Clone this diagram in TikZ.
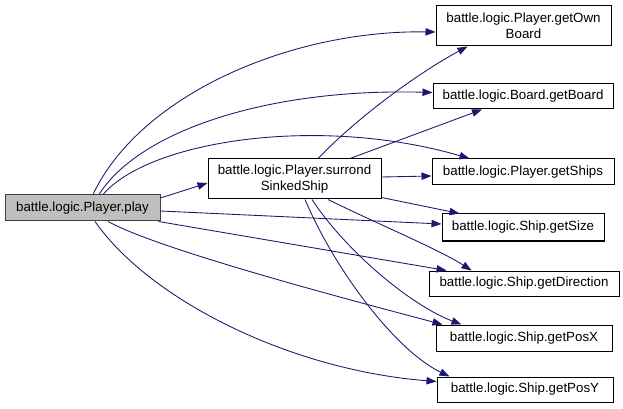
\documentclass[tikz,border=0pt]{standalone}
\usepackage{fontspec}
\setmainfont{Liberation Sans}
\usetikzlibrary{calc,arrows.meta}
\definecolor{edgeblue}{HTML}{191970}
\definecolor{boxgray}{HTML}{BFBFBF}
\definecolor{boxline}{HTML}{404040}
\tikzset{
  fn/.style={draw=black,line width=0.75pt,fill=white,inner sep=0pt,align=center,
    font=\fontsize{10}{12}\selectfont},
  cur/.style={fn,draw=boxline,fill=boxgray},
  call/.style={draw=edgeblue,line width=0.65pt,-{Triangle[length=7.5pt,width=5.5pt]}}
}
\begin{document}
\begin{tikzpicture}[x=0.75pt,y=-0.75pt]
\useasboundingbox (0,0) rectangle (623,409);
\node[cur,minimum width=116.25pt,minimum height=19.5pt] (play) at (82.5,208) {battle.logic.Player.play};
\node[fn,minimum width=129.75pt,minimum height=30pt] (sur) at (294.5,179) {battle.logic.Player.surrond\\SinkedShip};
\node[fn,minimum width=131.25pt,minimum height=30pt] (own) at (523.5,26) {battle.logic.Player.getOwn\\Board};
\node[fn,minimum width=135pt,minimum height=18.75pt] (brd) at (523,96.5) {battle.logic.Board.getBoard};
\node[fn,minimum width=136.5pt,minimum height=19.5pt] (shp) at (523,172) {battle.logic.Player.getShips};
\node[fn,minimum width=121.5pt,minimum height=20.25pt] (siz) at (523,227.5) {battle.logic.Ship.getSize};
\node[fn,minimum width=142.5pt,minimum height=18.75pt] (dir) at (524,283.5) {battle.logic.Ship.getDirection};
\node[fn,minimum width=132pt,minimum height=19.5pt] (px) at (524,338) {battle.logic.Ship.getPosX};
\node[fn,minimum width=132pt,minimum height=18.75pt] (py) at (525,389.5) {battle.logic.Ship.getPosY};
% from play
\draw[call] ($(play.north)+(10.5,0)$) .. controls (140,95) and (290,30) .. ($(own.west)+(0,6)$);
\draw[call] ($(play.north)+(16.5,0)$) .. controls (140,130) and (270,88) .. ($(brd.west)+(0,-4)$);
\draw[call] ($(play.north)+(20.5,0)$) .. controls (150,140) and (320,115) .. ($(shp.north west)+(38,0)$);
\draw[call] ($(play.east)+(0,-10)$) -- ($(sur.west)+(0,4)$);
\draw[call] ($(play.east)+(0,3)$) -- ($(siz.west)+(0,-3.5)$);
\draw[call] ($(play.south east)+(-2,0)$) -- ($(dir.north west)+(18,0)$);
\draw[call] ($(play.south)+(25.5,0)$) .. controls (160,250) and (350,300) .. ($(px.north west)+(7,0)$);
\draw[call] ($(play.south)+(12.5,0)$) .. controls (150,300) and (290,370) .. ($(py.west)+(0,-8)$);
% from surrond
\draw[call] ($(sur.north)+(23.5,0)$) .. controls (360,115) and (420,72) .. ($(own.south)+(-56,0)$);
\draw[call] ($(sur.north)+(55.5,0)$) -- ($(brd.south)+(-41,0)$);
\draw[call] ($(sur.east)+(0,-2)$) -- ($(shp.west)+(0,4)$);
\draw[call] ($(sur.south east)+(0,-2)$) -- ($(siz.north west)+(18,0)$);
\draw[call] ($(sur.south)+(33.5,0)$) .. controls (380,225) and (440,250) .. ($(dir.north west)+(43,0)$);
\draw[call] ($(sur.south)+(17.5,0)$) .. controls (345,250) and (410,305) .. ($(px.north west)+(26,0)$);
\draw[call] ($(sur.south)+(10.5,0)$) .. controls (335,270) and (395,350) .. ($(py.north west)+(13,0)$);
\end{tikzpicture}
\end{document}
